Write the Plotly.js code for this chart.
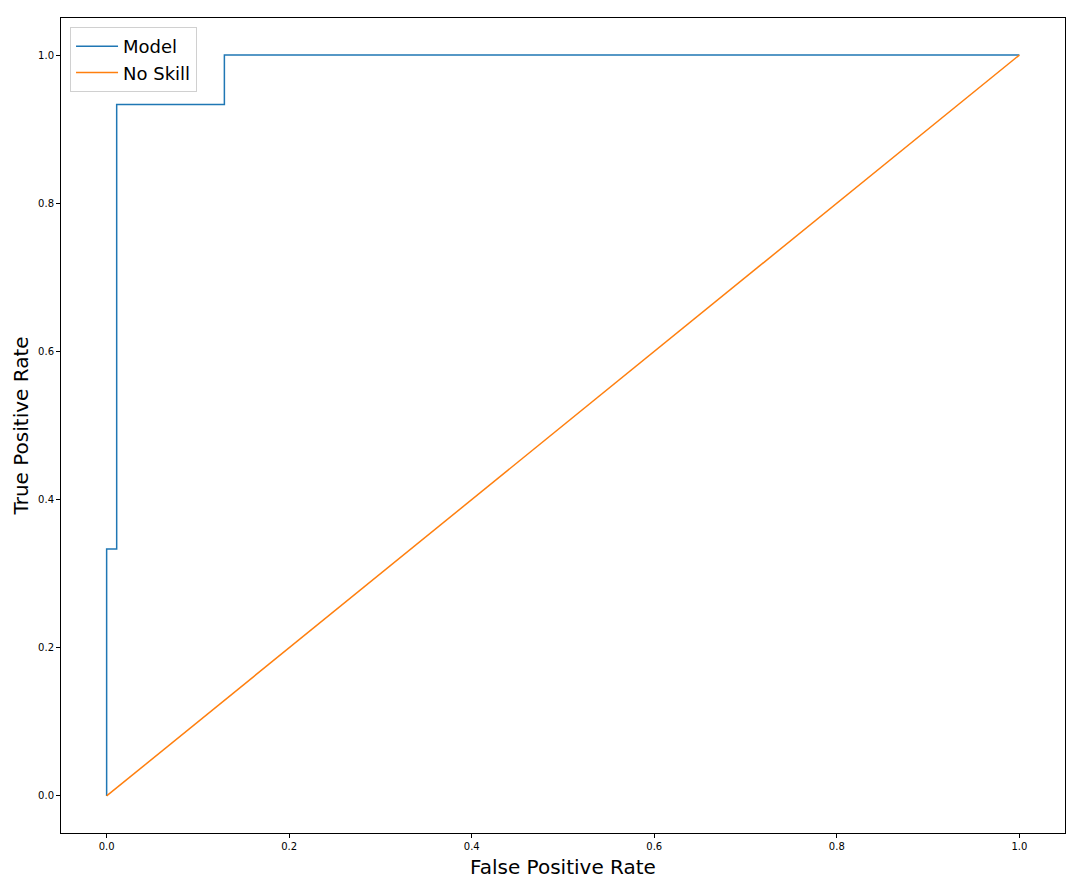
<!DOCTYPE html>
<html>
<head>
<meta charset="utf-8">
<script src="https://cdn.plot.ly/plotly-3.0.1.min.js"></script>
<style>body{margin:0;background:#fff}#chart{width:1078px;height:879px}</style>
</head>
<body>
<div id="chart"></div>
<script>
const modelFPR = [0.0, 0.0, 0.011, 0.011, 0.129, 0.129, 1.0];
const modelTPR = [0.0, 0.3333, 0.3333, 0.9333, 0.9333, 1.0, 1.0];
const noSkillFPR = [0.0, 1.0];
const noSkillTPR = [0.0, 1.0];
const tickVals = [0.0, 0.2, 0.4, 0.6, 0.8, 1.0];

const traces = [
  {x: modelFPR, y: modelTPR, mode: 'lines', name: 'Model', line: {color: '#1f77b4', width: 1.5}},
  {x: noSkillFPR, y: noSkillTPR, mode: 'lines', name: 'No Skill', line: {color: '#ff7f0e', width: 1.5}}
];
const axisCommon = {
  showline: true, linecolor: '#000', linewidth: 1, mirror: true,
  showgrid: false, zeroline: false, ticks: 'outside', ticklen: 4, tickcolor: '#000',
  tickvals: tickVals, tickformat: '.1f',
  tickfont: {family: 'DejaVu Sans', size: 10, color: '#000'}
};
const layout = {
  width: 1078, height: 879,
  margin: {l: 61, r: 13, t: 18, b: 46},
  paper_bgcolor: '#fff', plot_bgcolor: '#fff',
  showlegend: true,
  legend: {x: 0.009, y: 0.989, xanchor: 'left', yanchor: 'top', bgcolor: 'rgba(255,255,255,0.8)',
    bordercolor: '#d0d0d0', borderwidth: 1, itemwidth: 42, tracegroupgap: 0,
    font: {family: 'DejaVu Sans', size: 18, color: '#000'}},
  xaxis: Object.assign({}, axisCommon, {range: [-0.05, 1.05],
    title: {text: 'False Positive Rate', font: {family: 'DejaVu Sans', size: 20, color: '#000'}, standoff: 8}}),
  yaxis: Object.assign({}, axisCommon, {range: [-0.05, 1.05],
    title: {text: 'True Positive Rate', font: {family: 'DejaVu Sans', size: 20, color: '#000'}, standoff: 4}})
};
Plotly.newPlot('chart', traces, layout, {displayModeBar: false});
</script>
</body>
</html>
